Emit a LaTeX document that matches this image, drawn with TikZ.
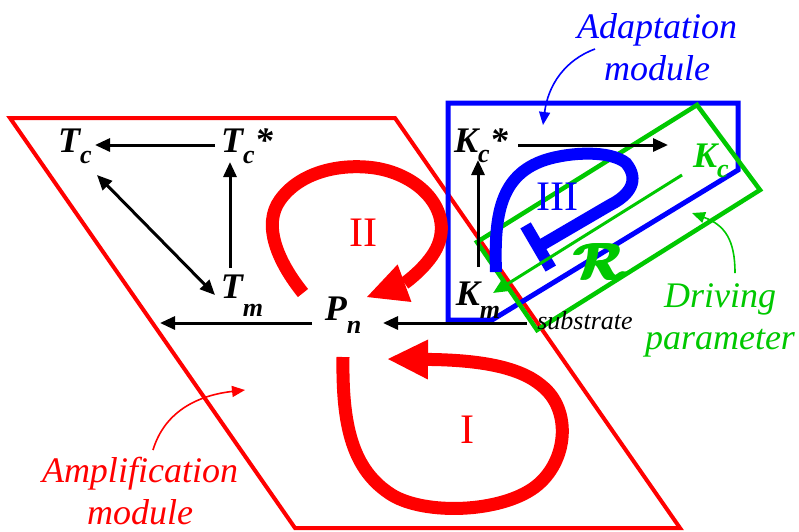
\documentclass[tikz,border=0pt]{standalone}
\usepackage{fontspec}
\usepackage{amsmath}
\usepackage{amssymb}
\usepackage{graphicx}
\setmainfont{Liberation Serif}
\usetikzlibrary{arrows.meta, calc}
\definecolor{ampred}{RGB}{255,0,0}
\definecolor{adblue}{RGB}{0,0,255}
\definecolor{drvgreen}{RGB}{0,200,0}
\newcommand{\lowsub}[2][12pt]{\raisebox{-#1}{\fontsize{26}{26}\selectfont #2}}
\newcommand{\bigcal}{\scalebox{5.2}{$\boldsymbol{\mathcal{R}}$}}
\newcommand{\heavycal}{\rlap{\bigcal}\hspace{1.2pt}\rlap{\bigcal}\hspace{1.2pt}\rlap{\bigcal}\hspace{1.2pt}\bigcal}
\tikzset{
    var/.style={font=\fontsize{36}{36}\selectfont\bfseries\itshape, inner sep=1pt, anchor=base},
    arrow/.style={-{Triangle[length=15pt,width=13pt]}, line width=3pt, draw=black},
    bigloop/.style={line width=13pt, draw=ampred, -{Triangle[length=40pt,width=40pt,line width=0pt]}},
    numeral/.style={font=\fontsize{42}{42}\selectfont},
    note/.style={font=\fontsize{36}{42}\selectfont\itshape, align=center, inner sep=0pt},
    notearrow/.style={-{Triangle[length=13pt,width=11pt]}, line width=1.6pt},
    module/.style={line width=4pt, line join=miter},
}
\begin{document}
\begin{tikzpicture}[x=1pt, y=-1pt]
    \useasboundingbox (0,0) rectangle (799,531);
    % modules
    \draw[module, ampred] (10,118) -- (395,118) -- (680,528) -- (295,528) -- cycle;
    \draw[module, adblue, line width=5pt] (448,103) -- (738,103) -- (738,170) -- (492,320) -- (448,320) -- cycle;
    \draw[module, drvgreen, line width=4.5pt] (697,105) -- (760,190) -- (537,330) -- (477,242) -- cycle;
    % loops
    \draw[bigloop] (303,293) .. controls (278,262) and (262,225) .. (280,200)
        .. controls (300,172) and (340,163) .. (375,168)
        .. controls (420,175) and (452,210) .. (438,245)
        .. controls (430,265) and (405,283) .. (367,297);
    \draw[bigloop] (343,357) .. controls (342,425) and (352,470) .. (392,495)
        .. controls (425,515) and (500,513) .. (535,487)
        .. controls (568,462) and (572,410) .. (542,386)
        .. controls (520,367) and (480,360) .. (388,359);
    \draw[line width=12pt, adblue, -{Bar[width=50pt]}] (496,272) .. controls (494,215) and (500,175) .. (545,160)
        .. controls (570,152) and (610,150) .. (626,163)
        .. controls (640,180) and (630,195) .. (610,205) -- (533,250);
    \node[numeral, text=ampred] (two) at (363,233) {II};
    \node[numeral, text=ampred] (one) at (467,430) {I};
    \node[numeral, text=adblue] (three) at (557,197) {III};
    % variables
    \node[var] (tc) at (75,152) {T\lowsub[11pt]{c}};
    \node[var] (tcs) at (247,152) {T\lowsub[11pt]{c}*};
    \node[var] (tm) at (242,298) {T\lowsub[18pt]{m}};
    \node[var] (pn) at (343,320) {P\lowsub[13pt]{n}};
    \node[var] (kcs) at (481,152) {K\lowsub[10pt]{c}*};
    \node[var] (km) at (478,305) {K\lowsub[13pt]{m}};
    \node[var, text=drvgreen] (kc) at (711,167) {K\lowsub[10pt]{c}};
    \node[font=\fontsize{26}{26}\selectfont\itshape, inner sep=0pt, anchor=base] (sub) at (585,329) {substrate};
    \node[text=drvgreen, inner sep=0pt] (res) at (600,262) {\heavycal};
    \coordinate (out) at (160,323);
    % reactions
    \draw[arrow] ($(tcs.base)+(-32,-7)$) -- ($(tc.base)+(20,-7)$);
    \draw[arrow] ($(tm.base)+(-12,-30)$) -- ($(tcs.base)+(-17,10)$);
    \draw[arrow, {Triangle[length=15pt,width=13pt]}-{Triangle[length=15pt,width=13pt]}] ($(tc.base)+(22,23)$) -- ($(tm.base)+(-27,-3)$);
    \draw[arrow] ($(pn.base)+(-31,3)$) -- (out);
    \draw[arrow] ($(sub.base)+(-58,-6)$) -- ($(pn.base)+(40,3)$);
    \draw[arrow] ($(km.base)+(0,-38)$) -- ($(kcs.base)+(-3,8)$);
    \draw[arrow] ($(kcs.base)+(37,-7)$) -- ($(kcs.base)+(187,-7)$);
    \draw[arrow, draw=drvgreen, -{Triangle[length=15pt,width=13pt]}] ($(kc.base)+(-29,8)$) -- ($(km.base)+(15,-12)$);
    % labels
    \node[note, text=adblue] (adlbl) at (657,47) {Adaptation\\module};
    \node[note, text=drvgreen] (drvlbl) at (720,320) {Driving\\parameter};
    \node[note, text=ampred] (amplbl) at (140,491) {Amplification\\module};
    \draw[notearrow, adblue] ($(adlbl.center)+(-62,2)$) .. controls (565,60) and (548,85) .. (543,125);
    \draw[notearrow, drvgreen] ($(drvlbl.center)+(15,-47)$) .. controls (735,240) and (725,225) .. (692,213);
    \draw[notearrow, ampred] ($(amplbl.center)+(13,-41)$) .. controls (165,410) and (200,395) .. (245,390);
\end{tikzpicture}
\end{document}
